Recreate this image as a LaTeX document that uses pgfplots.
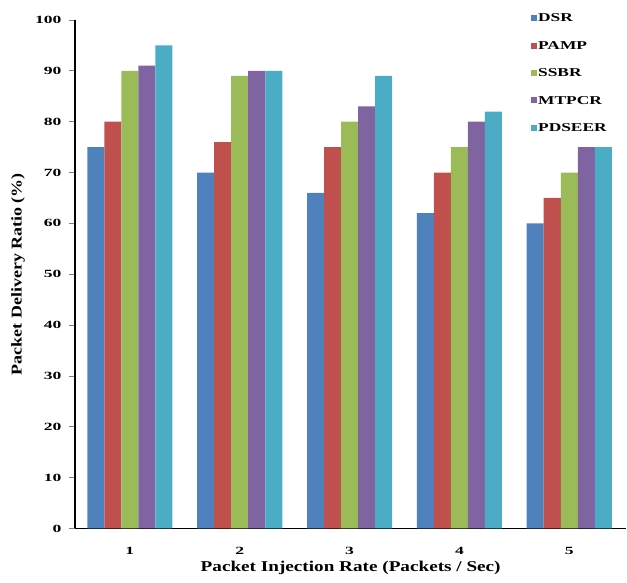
\documentclass[border=0pt]{standalone}
\usepackage{pgfplots}
\pgfplotsset{compat=1.18}
\usepackage{fontspec}
\setmainfont{Liberation Serif}
\newfontfamily\tickfont{Liberation Serif}[FakeStretch=1.6]
\newfontfamily\legfont{Liberation Serif}[FakeStretch=1.45]
\newfontfamily\xlabfont{Liberation Serif}[FakeStretch=1.28]
\newfontfamily\ylabfont{Liberation Serif}[FakeStretch=1.2]
\definecolor{cA}{HTML}{4F81BD}
\definecolor{cB}{HTML}{C0504D}
\definecolor{cC}{HTML}{9BBB59}
\definecolor{cD}{HTML}{8064A2}
\definecolor{cE}{HTML}{4BACC6}
\begin{document}
\begin{tikzpicture}
\begin{axis}[
  name=ax,
  scale only axis,
  width=552pt, height=509pt,
  ybar=0pt, bar width=0.155,
  legend image code/.code={\fill[#1] (0pt,-2.5pt) rectangle (6pt,3.5pt);},
  ymin=0, ymax=100, ytick={0,10,...,100},
  xmin=0.5, xmax=5.52,
  xtick={1,2,3,4,5},
  major x tick style={draw=none},
  extra x ticks={1.5,2.5,3.5,4.5},
  extra x tick labels={},
  extra x tick style={major tick length=6pt, tick style={draw=black, thick}, tick align=outside},
  axis x line=bottom, axis y line=left,
  axis line style={-, very thick},
  tick align=outside, major tick length=6pt,
  ytick style={thick},
  tick label style={font=\tickfont\bfseries\fontsize{11}{12}\selectfont},
  yticklabel style={xshift=-4pt},
  xticklabel style={anchor=center, yshift=-16pt},
  /pgf/number format/assume math mode=true,
  xlabel={Packet Injection Rate (Packets / Sec)},
  ylabel={Packet Delivery Ratio (\%)},
  xlabel style={font=\xlabfont\bfseries\fontsize{15}{17}\selectfont,
    at={(axis description cs:0.5,0)}, anchor=center, yshift=-39pt},
  ylabel style={font=\ylabfont\bfseries\fontsize{15}{17}\selectfont,
    at={(axis description cs:0,0.5)}, anchor=center, yshift=57pt},
  legend style={at={(0.826,1.016)}, anchor=north west, draw=none, fill=none,
    font=\legfont\bfseries\fontsize{12}{13}\selectfont, row sep=14pt,
    inner sep=0pt, nodes={inner xsep=1.5pt}},
  legend cell align=left,
]
\addplot[fill=cA, draw=none] coordinates {(1,75) (2,70) (3,66) (4,62) (5,60)};
\addplot[fill=cB, draw=none] coordinates {(1,80) (2,76) (3,75) (4,70) (5,65)};
\addplot[fill=cC, draw=none] coordinates {(1,90) (2,89) (3,80) (4,75) (5,70)};
\addplot[fill=cD, draw=none] coordinates {(1,91) (2,90) (3,83) (4,80) (5,75)};
\addplot[fill=cE, draw=none] coordinates {(1,95) (2,90) (3,89) (4,82) (5,75)};
\legend{DSR,PAMP,SSBR,MTPCR,PDSEER}
\end{axis}
\path (ax.south west) ++(-75pt,-54pt) rectangle ++(627pt,583pt);
\end{tikzpicture}
\end{document}
